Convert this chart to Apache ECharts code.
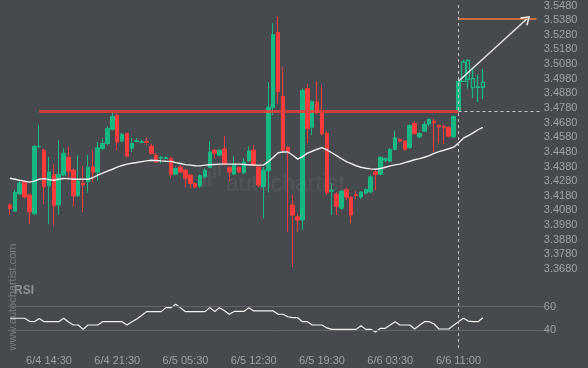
<!DOCTYPE html>
<html><head><meta charset="utf-8">
<script src="https://cdn.jsdelivr.net/npm/echarts@6/dist/echarts.min.js"></script>
<style>html,body{margin:0;padding:0;background:#46494e}#c{width:588px;height:368px}</style>
</head><body><div id="c"></div>
<script>
const open = [3.4116,3.4075,3.4193,3.4275,3.4184,3.4057,3.4515,3.4491,3.4248,3.4325,
3.4116,3.4321,3.4443,3.4355,3.4181,3.4266,3.4275,3.4375,3.4341,3.4503,
3.4537,3.4634,3.4730,3.4554,3.4605,3.4505,3.4552,3.4546,3.4549,3.4518,
3.4457,3.4436,3.4434,3.4434,3.4327,3.4377,3.4355,3.4321,3.4264,3.4246,
3.4309,3.4373,3.4491,3.4457,3.4500,3.4373,3.4327,3.4373,3.4336,3.4418,
3.4491,3.4377,3.4241,3.4350,3.4782,3.5296,3.4859,3.4511,3.4116,3.4036,
3.4014,3.4912,3.4648,3.4820,3.4745,3.4605,3.4211,3.4191,3.4095,3.4222,
3.4168,3.4186,3.4171,3.4198,3.4207,3.4343,3.4327,3.4423,3.4416,3.4496,
3.4564,3.4554,3.4509,3.4673,3.4582,3.4621,3.4668,3.4689,3.4661,3.4655,
3.4646,3.4582,3.4757,3.4962,3.5105,3.4980,3.4921,3.4923];
const close = [3.4093,3.4203,3.4266,3.4172,3.4070,3.4518,3.4518,3.4241,3.4343,3.4111,
3.4327,3.4471,3.4348,3.4179,3.4280,3.4254,3.4375,3.4341,3.4508,3.4537,
3.4639,3.4723,3.4548,3.4600,3.4450,3.4537,3.4556,3.4549,3.4544,3.4469,
3.4411,3.4443,3.4441,3.4325,3.4366,3.4343,3.4300,3.4264,3.4241,3.4319,
3.4355,3.4479,3.4473,3.4491,3.4396,3.4343,3.4396,3.4343,3.4411,3.4486,
3.4389,3.4252,3.4355,3.4786,3.5282,3.4893,3.4491,3.4479,3.4048,3.4014,
3.4900,3.4639,3.4825,3.4750,3.4605,3.4200,3.4218,3.4109,3.4211,3.4171,
3.4048,3.4182,3.4205,3.4222,3.4309,3.4325,3.4443,3.4434,3.4496,3.4578,
3.4554,3.4498,3.4661,3.4605,3.4605,3.4668,3.4702,3.4680,3.4650,3.4643,
3.4587,3.4723,3.4962,3.5093,3.4975,3.4919,3.4924,3.4955];
const low = [3.4048,3.4070,3.4189,3.4162,3.3986,3.4048,3.4508,3.4123,3.3986,3.3973,
3.4048,3.4314,3.4286,3.4109,3.4171,3.4070,3.4201,3.4273,3.4280,3.4491,
3.4525,3.4627,3.4491,3.4546,3.4443,3.4479,3.4546,3.4539,3.4525,3.4464,
3.4402,3.4400,3.4430,3.4302,3.4321,3.4334,3.4241,3.4232,3.4232,3.4232,
3.4300,3.4368,3.4436,3.4450,3.4389,3.4275,3.4321,3.4334,3.4327,3.4413,
3.4382,3.4239,3.4025,3.4200,3.4730,3.4810,3.4477,3.3932,3.3693,3.3934,
3.3945,3.4539,3.4593,3.4737,3.4593,3.4184,3.4048,3.4048,3.4082,3.4150,
3.3991,3.4157,3.4157,3.4191,3.4198,3.4218,3.4321,3.4409,3.4409,3.4491,
3.4546,3.4491,3.4498,3.4600,3.4573,3.4614,3.4655,3.4479,3.4537,3.4532,
3.4580,3.4576,3.4757,3.4962,3.4912,3.4846,3.4820,3.4839];
const high = [3.4128,3.4218,3.4286,3.4280,3.4191,3.4525,3.4662,3.4503,3.4445,3.4394,
3.4559,3.4505,3.4512,3.4366,3.4457,3.4382,3.4460,3.4491,3.4548,3.4573,
3.4655,3.4750,3.4743,3.4607,3.4609,3.4576,3.4576,3.4563,3.4580,3.4535,
3.4471,3.4452,3.4450,3.4445,3.4375,3.4389,3.4361,3.4327,3.4273,3.4327,
3.4368,3.4552,3.4498,3.4498,3.4587,3.4382,3.4450,3.4382,3.4439,3.4518,
3.4525,3.4389,3.4377,3.4957,3.5359,3.5405,3.5059,3.4518,3.4184,3.4055,
3.4914,3.4946,3.4832,3.4962,3.4934,3.4621,3.4266,3.4205,3.4218,3.4232,
3.4177,3.4211,3.4211,3.4232,3.4321,3.4355,3.4450,3.4443,3.4505,3.4627,
3.4573,3.4559,3.4668,3.4691,3.4614,3.4689,3.4709,3.4707,3.4665,3.4661,
3.4655,3.4730,3.4965,3.5110,3.5112,3.5048,3.5009,3.5048];
const ma = [3.4300,3.4293,3.4286,3.4280,3.4273,3.4280,3.4293,3.4297,3.4290,3.4286,
3.4293,3.4298,3.4297,3.4293,3.4293,3.4293,3.4293,3.4303,3.4321,3.4334,
3.4348,3.4361,3.4375,3.4387,3.4396,3.4402,3.4407,3.4413,3.4418,3.4423,
3.4421,3.4418,3.4416,3.4415,3.4406,3.4400,3.4393,3.4389,3.4385,3.4384,
3.4389,3.4392,3.4394,3.4396,3.4396,3.4396,3.4396,3.4396,3.4394,3.4392,
3.4390,3.4389,3.4389,3.4413,3.4443,3.4474,3.4479,3.4479,3.4457,3.4430,
3.4447,3.4471,3.4484,3.4498,3.4509,3.4494,3.4474,3.4454,3.4433,3.4413,
3.4399,3.4385,3.4375,3.4368,3.4364,3.4361,3.4366,3.4375,3.4384,3.4391,
3.4396,3.4406,3.4416,3.4426,3.4434,3.4443,3.4454,3.4469,3.4481,3.4491,
3.4501,3.4512,3.4541,3.4573,3.4591,3.4610,3.4631,3.4648];
const rsi = [50.2,50.2,50.2,50.2,47.6,47.3,50.0,47.3,47.3,47.3,
47.3,50.2,47.0,44.5,44.5,40.8,44.5,44.5,44.5,47.3,
47.3,47.3,47.3,47.3,44.5,47.3,49.5,52.5,55.8,55.8,
55.8,55.8,59.2,59.2,62.0,59.0,55.8,55.8,55.8,55.8,
55.8,59.2,56.0,59.2,56.5,53.6,56.0,56.0,56.0,59.2,
56.4,56.4,56.4,56.4,56.4,53.6,53.6,51.5,50.7,50.7,
47.3,47.3,44.5,44.5,44.5,42.0,40.8,40.8,40.8,40.8,
40.8,40.8,43.9,40.8,40.8,38.6,41.7,41.7,44.5,47.3,
44.5,44.5,44.5,41.1,44.2,47.3,47.3,45.3,41.1,41.1,
41.1,44.3,47.3,50.2,47.8,47.3,47.3,50.7];
const priceTicks = [3.3680,3.3780,3.3880,3.3980,3.4080,3.4180,3.4280,3.4380,3.4480,3.4580,
3.4680,3.4780,3.4880,3.4980,3.5080,3.5180,3.5280,3.5380,3.5480];
const rsiTicks = [40, 60];
const xTickIndex = [8,22,36,50,64,78,92];
const xTickLabels = ['6/4 14:30','6/4 21:30','6/5 05:30','6/5 12:30','6/5 19:30','6/6 03:30','6/6 11:00'];
const resistanceLevel = 3.4758;
const targetLevel = 3.5388;
const resistanceStart = 6;
const breakoutIndex = 92;
const futureStart = 93;
const arrowEndIndex = 106;
const SLOTS = 110;

const GREEN = '#18b884', RED = '#fb3c3c', LBL = '#9ea2a7';
const FONT = '"Liberation Sans", Arial, sans-serif';
const categories = [];
for (let i = 0; i < SLOTS; i++) categories.push(String(i));

const candleData = open.map((o, i) => {
  const v = [o, close[i], low[i], high[i]];
  if (i >= futureStart) return {value: v, itemStyle: {color: 'transparent', color0: 'transparent', borderColor: GREEN, borderColor0: RED, borderWidth: 1.3}};
  return v;
});

const chart = echarts.init(document.getElementById('c'), null, {renderer: 'canvas'});
const gl = 7.56, gr = 44.2;
chart.setOption({
  animation: false,
  backgroundColor: '#46494e',
  textStyle: {fontFamily: FONT},
  grid: [
    {left: gl, right: gr, top: 4, height: 286},
    {left: gl, right: gr, top: 290, height: 58}
  ],
  xAxis: [
    {type: 'category', gridIndex: 0, data: categories, axisLine: {show: false}, axisTick: {show: false}, axisLabel: {show: false}, splitLine: {show: false}},
    {type: 'category', gridIndex: 1, data: categories, axisLine: {show: false}, axisTick: {show: false}, splitLine: {show: false},
      axisLabel: {interval: (i) => xTickIndex.indexOf(i) >= 0, formatter: (v) => { const k = xTickIndex.indexOf(Number(v)); return k >= 0 ? xTickLabels[k] : ''; },
        color: LBL, fontSize: 11, fontFamily: FONT, margin: 7}}
  ],
  yAxis: [
    {type: 'value', gridIndex: 0, position: 'right', min: 3.3536, max: 3.5487, axisLine: {show: false}, axisTick: {show: false}, splitLine: {show: false},
      axisLabel: {customValues: priceTicks, formatter: (v) => v.toFixed(4), color: LBL, fontSize: 11, fontFamily: FONT, margin: 0, showMinLabel: true, showMaxLabel: true}},
    {type: 'value', gridIndex: 1, position: 'right', min: 25, max: 74.15, axisLine: {show: false}, axisTick: {show: false}, splitLine: {show: false},
      axisLabel: {customValues: rsiTicks, color: LBL, fontSize: 11, fontFamily: FONT, margin: 0}}
  ],
  graphic: [
    {type: 'group', z: 0, silent: true, children: [
      {type: 'rect', shape: {x: 203, y: 177, width: 3, height: 9}, style: {fill: '#505358'}},
      {type: 'rect', shape: {x: 208, y: 171, width: 3, height: 15}, style: {fill: '#505358'}},
      {type: 'rect', shape: {x: 213, y: 167, width: 3, height: 11}, style: {fill: '#505358'}},
      {type: 'rect', shape: {x: 218, y: 163, width: 3, height: 13}, style: {fill: '#505358'}},
      {type: 'text', x: 226, y: 185, style: {text: 'autochartist', fill: '#52555a', fontSize: 23, fontFamily: FONT, verticalAlign: 'middle', align: 'left'}}
    ]},
    {type: 'text', z: 1, silent: true, x: 14, y: 291, style: {text: 'RSI', fill: '#8c9095', fontSize: 12, fontWeight: 'bold', fontFamily: FONT, verticalAlign: 'middle', align: 'left'}},
    {type: 'text', z: 1, silent: true, x: 13, y: 297, rotation: Math.PI / 2, style: {text: 'www.autochartist.com', fill: '#7a7e83', fontSize: 11, fontFamily: FONT, verticalAlign: 'middle', align: 'center'}}
  ],
  series: [
    {type: 'candlestick', xAxisIndex: 0, yAxisIndex: 0, data: candleData, barWidth: 4,
      itemStyle: {color: GREEN, color0: RED, borderColor: GREEN, borderColor0: RED, borderWidth: 1}},
    {type: 'line', xAxisIndex: 0, yAxisIndex: 0, data: ma, symbol: 'none', z: 3,
      lineStyle: {color: '#eeeeee', width: 1.4},
      markLine: {silent: true, symbol: ['none', 'none'], label: {show: false},
        data: [
          [{coord: [resistanceStart, resistanceLevel], lineStyle: {color: 'rgba(228,62,62,0.85)', width: 3, type: 'solid'}}, {coord: [breakoutIndex, resistanceLevel]}],
          [{coord: [breakoutIndex, resistanceLevel], lineStyle: {color: '#c4c4c4', width: 1, type: [3, 3]}}, {coord: [SLOTS - 1, resistanceLevel]}],
          [{coord: [breakoutIndex, targetLevel], lineStyle: {color: '#f47b3a', width: 1.5, type: 'solid'}}, {coord: [108, targetLevel]}],
          [{coord: [breakoutIndex, close[breakoutIndex]], lineStyle: {color: '#e4e4e4', width: 1.5, type: 'solid'}},
           {coord: [arrowEndIndex, targetLevel], symbol: 'path://M0,9L5,0L10,9L8.6,10L5,3L1.4,10Z', symbolSize: [11, 9]}],
          {xAxis: breakoutIndex, lineStyle: {color: '#c4c4c4', width: 1, type: [3, 3]}}
        ]}},
    {type: 'line', xAxisIndex: 1, yAxisIndex: 1, data: rsi, symbol: 'none', z: 3,
      lineStyle: {color: '#f2f2f2', width: 1.2},
      markLine: {silent: true, symbol: ['none', 'none'], label: {show: false},
        data: [
          {yAxis: 40, lineStyle: {color: '#62666b', width: 1, type: 'solid'}},
          {yAxis: 60, lineStyle: {color: '#62666b', width: 1, type: 'solid'}},
          {xAxis: breakoutIndex, lineStyle: {color: '#c4c4c4', width: 1, type: [3, 3]}}
        ]}}
  ]
});
</script>
</body></html>
